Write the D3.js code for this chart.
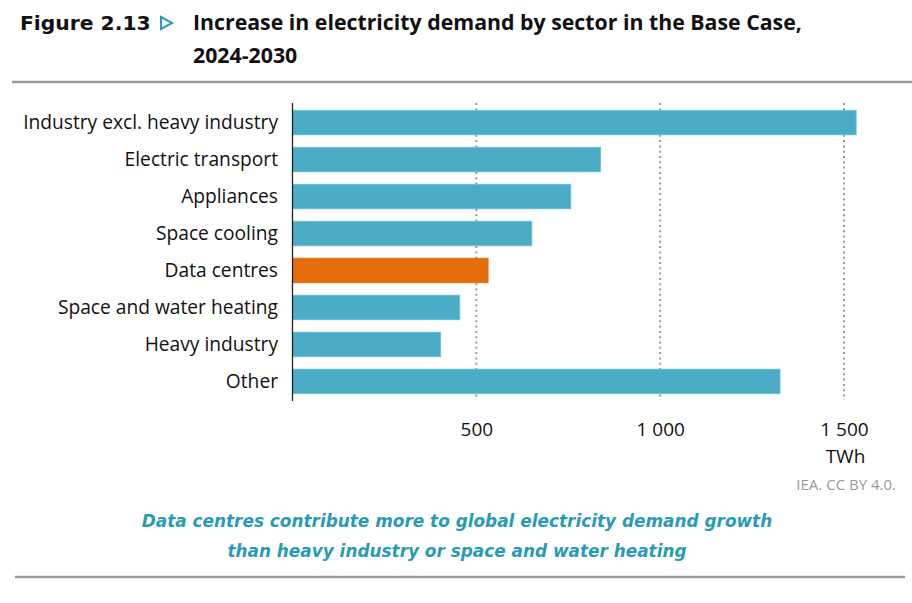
<!DOCTYPE html>
<html>
<head>
<meta charset="utf-8">
<script src="https://cdn.jsdelivr.net/npm/d3@7"></script>
<style>
  body { margin: 0; background: #fff; }
  svg { display: block; }
</style>
</head>
<body>
<div id="Chart"></div>
<script>
const sectors = ["Industry excl. heavy industry", "Electric transport", "Appliances", "Space cooling",
                 "Data centres", "Space and water heating", "Heavy industry", "Other"];
const demandTWh = [1533, 838, 757, 651, 532, 455, 403, 1326];
const highlight = "Data centres";
const xTicks = [500, 1000, 1500];
const titleLines = ["Increase in electricity demand by sector in the Base Case,", "2024-2030"];
const captionLines = ["Data centres contribute more to global electricity demand growth",
                      "than heavy industry or space and water heating"];

const W = 912, H = 603;
const m = {left: 292.5, top: 104};
const teal = "#4bacc6", orange = "#e46c0a";

const svg = d3.select("#Chart").append("svg")
  .attr("width", W).attr("height", H)
  .attr("viewBox", `0 0 ${W} ${H}`);

// header
svg.append("text")
  .attr("x", 20).attr("y", 30)
  .attr("font-family", "DejaVu Sans").attr("font-weight", "bold")
  .attr("font-size", 20.3).attr("fill", "#111")
  .text("Figure 2.13");
svg.append("path")
  .attr("d", "M161,17 L172,23 L161,29 Z")
  .attr("fill", "none").attr("stroke", "#2a9bb5").attr("stroke-width", 2);
svg.append("g").selectAll("text").data(titleLines).join("text")
  .attr("x", 193).attr("y", (d, i) => 30 + i * 33)
  .attr("font-family", "Open Sans").attr("font-weight", "bold")
  .attr("font-size", 21.3).attr("fill", "#111")
  .text(d => d);
svg.append("line")
  .attr("x1", 12).attr("x2", W).attr("y1", 82).attr("y2", 82)
  .attr("stroke", "#999").attr("stroke-width", 2.5);

const x = d3.scaleLinear().domain([0, 1500]).range([m.left, 844]);
const y = d3.scaleBand().domain(sectors).range([m.top, 400]).paddingInner(0.335).paddingOuter(0.17);

// dotted grid
svg.append("g").selectAll("line").data(xTicks).join("line")
  .attr("x1", d => x(d)).attr("x2", d => x(d))
  .attr("y1", m.top - 1).attr("y2", 400)
  .attr("stroke", "#999").attr("stroke-width", 2)
  .attr("stroke-dasharray", "2 3.3");

svg.append("g").selectAll("rect").data(sectors).join("rect")
  .attr("x", x(0))
  .attr("y", d => y(d))
  .attr("width", (d, i) => x(demandTWh[i]) - x(0))
  .attr("height", y.bandwidth())
  .attr("fill", d => d === highlight ? orange : teal)
  .attr("stroke", d => d === highlight ? orange : "#6cc0d6")
  .attr("stroke-width", 0.8);

// category labels
svg.append("g").selectAll("text").data(sectors).join("text")
  .attr("x", 278)
  .attr("y", d => y(d) + y.bandwidth() / 2)
  .attr("dy", "0.35em")
  .attr("text-anchor", "end")
  .attr("font-family", "Open Sans").attr("font-size", 19.2).attr("fill", "#111")
  .text(d => d);

// vertical axis line
svg.append("line")
  .attr("x1", x(0)).attr("x2", x(0)).attr("y1", m.top - 1).attr("y2", 401)
  .attr("stroke", "#222").attr("stroke-width", 1.3);

// x axis labels
const xAxis = d3.axisBottom(x).tickValues(xTicks).tickSize(0).tickPadding(0)
  .tickFormat(d => d3.format(",")(d).replace(",", " "));
const ax = svg.append("g").attr("transform", "translate(0,422)").call(xAxis);
ax.select(".domain").remove();
ax.selectAll("text").attr("font-family", "Open Sans").attr("font-size", 19).attr("fill", "#111");

svg.append("text")
  .attr("x", x(1500) + 1.5).attr("y", 463).attr("text-anchor", "middle")
  .attr("font-family", "Open Sans").attr("font-size", 19).attr("fill", "#111")
  .text("TWh");
svg.append("text")
  .attr("x", 896).attr("y", 490).attr("text-anchor", "end")
  .attr("font-family", "Open Sans").attr("font-size", 15).attr("fill", "#999")
  .text("IEA. CC BY 4.0.");

// caption
svg.append("g").selectAll("text").data(captionLines).join("text")
  .attr("x", 457).attr("y", (d, i) => 527 + i * 29.5)
  .attr("text-anchor", "middle")
  .attr("font-family", "DejaVu Sans").attr("font-weight", "bold").attr("font-style", "italic")
  .attr("font-size", 16.9).attr("fill", "#2a9bb5")
  .text(d => d);
svg.append("line")
  .attr("x1", 15).attr("x2", 905).attr("y1", 577).attr("y2", 577)
  .attr("stroke", "#999").attr("stroke-width", 2.5);
</script>
</body>
</html>
